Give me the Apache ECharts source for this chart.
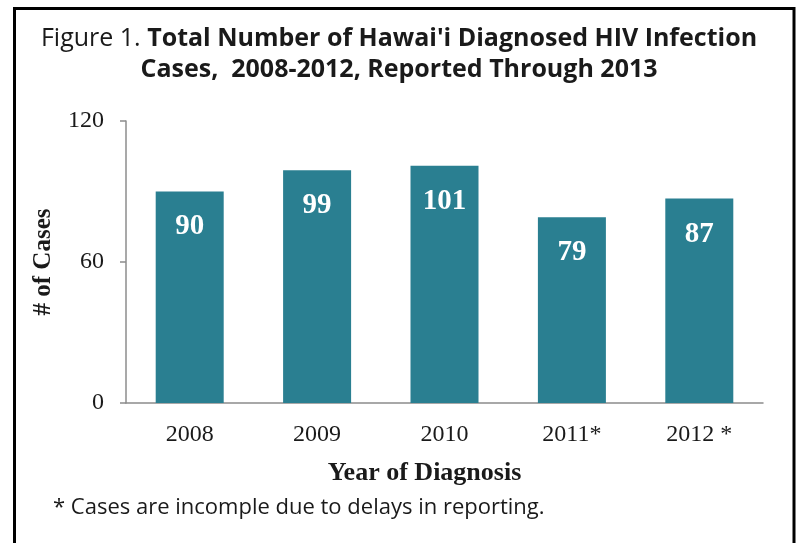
<!DOCTYPE html>
<html>
<head>
<meta charset="utf-8">
<script src="https://cdn.jsdelivr.net/npm/echarts@6/dist/echarts.min.js"></script>
<style>
html,body{margin:0;padding:0;background:#fff;}
#chart{width:798px;height:543px;}
</style>
</head>
<body>
<div id="chart"></div>
<script>
const categories = ['2008', '2009', '2010', '2011*', '2012 *'];
const cases = [90, 99, 101, 79, 87];
const yTicks = [0, 60, 120];
const titleLead = 'Figure 1. ';
const titleLine1 = 'Total Number of Hawai\'i Diagnosed HIV Infection';
const titleLine2 = 'Cases,  2008-2012, Reported Through 2013';
const footnote = '* Cases are incomple due to delays in reporting.';

const chart = echarts.init(document.getElementById('chart'), null, {renderer: 'canvas'});
const serif = '"Liberation Serif", "DejaVu Serif", serif';
const sans = '"Open Sans", Lato, sans-serif';
chart.setOption({
  backgroundColor: '#ffffff',
  animation: false,
  title: {
    text: '{r|' + titleLead + '}{b|' + titleLine1 + '}\n{b|' + titleLine2 + '}',
    left: 'center',
    top: 18,
    textStyle: {
      rich: {
        r: {fontFamily: sans, fontSize: 25, fontWeight: 'normal', color: '#1a1a1a', lineHeight: 31},
        b: {fontFamily: sans, fontSize: 25, fontWeight: 'bold', color: '#1a1a1a', lineHeight: 31}
      }
    }
  },
  grid: {left: 126, right: 35, top: 121, bottom: 140, containLabel: false},
  xAxis: {
    type: 'category',
    data: categories,
    name: 'Year of Diagnosis',
    nameLocation: 'middle',
    nameGap: 57,
    nameTextStyle: {fontFamily: serif, fontSize: 26, fontWeight: 'bold', color: '#1a1a1a', padding: [0, 40, 0, 0]},
    axisLine: {show: true, lineStyle: {color: '#8c8c8c', width: 1.5}},
    axisTick: {show: false},
    axisLabel: {fontFamily: serif, fontSize: 24, color: '#1a1a1a', margin: 20}
  },
  yAxis: {
    type: 'value',
    min: yTicks[0],
    max: yTicks[yTicks.length - 1],
    interval: yTicks[1] - yTicks[0],
    name: '# of Cases',
    nameLocation: 'middle',
    nameGap: 70,
    nameRotate: 90,
    nameTextStyle: {fontFamily: serif, fontSize: 25, fontWeight: 'bold', color: '#1a1a1a'},
    axisLine: {show: true, lineStyle: {color: '#8c8c8c', width: 1.5}},
    axisTick: {show: true, inside: false, length: 6, lineStyle: {color: '#8c8c8c', width: 1.5}},
    axisLabel: {fontFamily: serif, fontSize: 24, color: '#1a1a1a', margin: 22},
    splitLine: {show: false}
  },
  series: [{
    type: 'bar',
    data: cases,
    barWidth: 68,
    itemStyle: {color: '#2A7F91'},
    label: {
      show: true,
      position: 'insideTop',
      distance: 21,
      fontFamily: serif,
      fontSize: 29,
      fontWeight: 'bold',
      color: '#ffffff'
    }
  }],
  graphic: [
    {
      type: 'rect',
      shape: {x: 14.5, y: 8.5, width: 779.5, height: 560},
      style: {fill: 'none', stroke: '#000000', lineWidth: 3},
      silent: true
    },
    {
      type: 'text',
      left: 53,
      top: 497,
      style: {text: footnote, fontFamily: sans, fontSize: 22, fill: '#1a1a1a'}
    }
  ]
});
</script>
</body>
</html>
